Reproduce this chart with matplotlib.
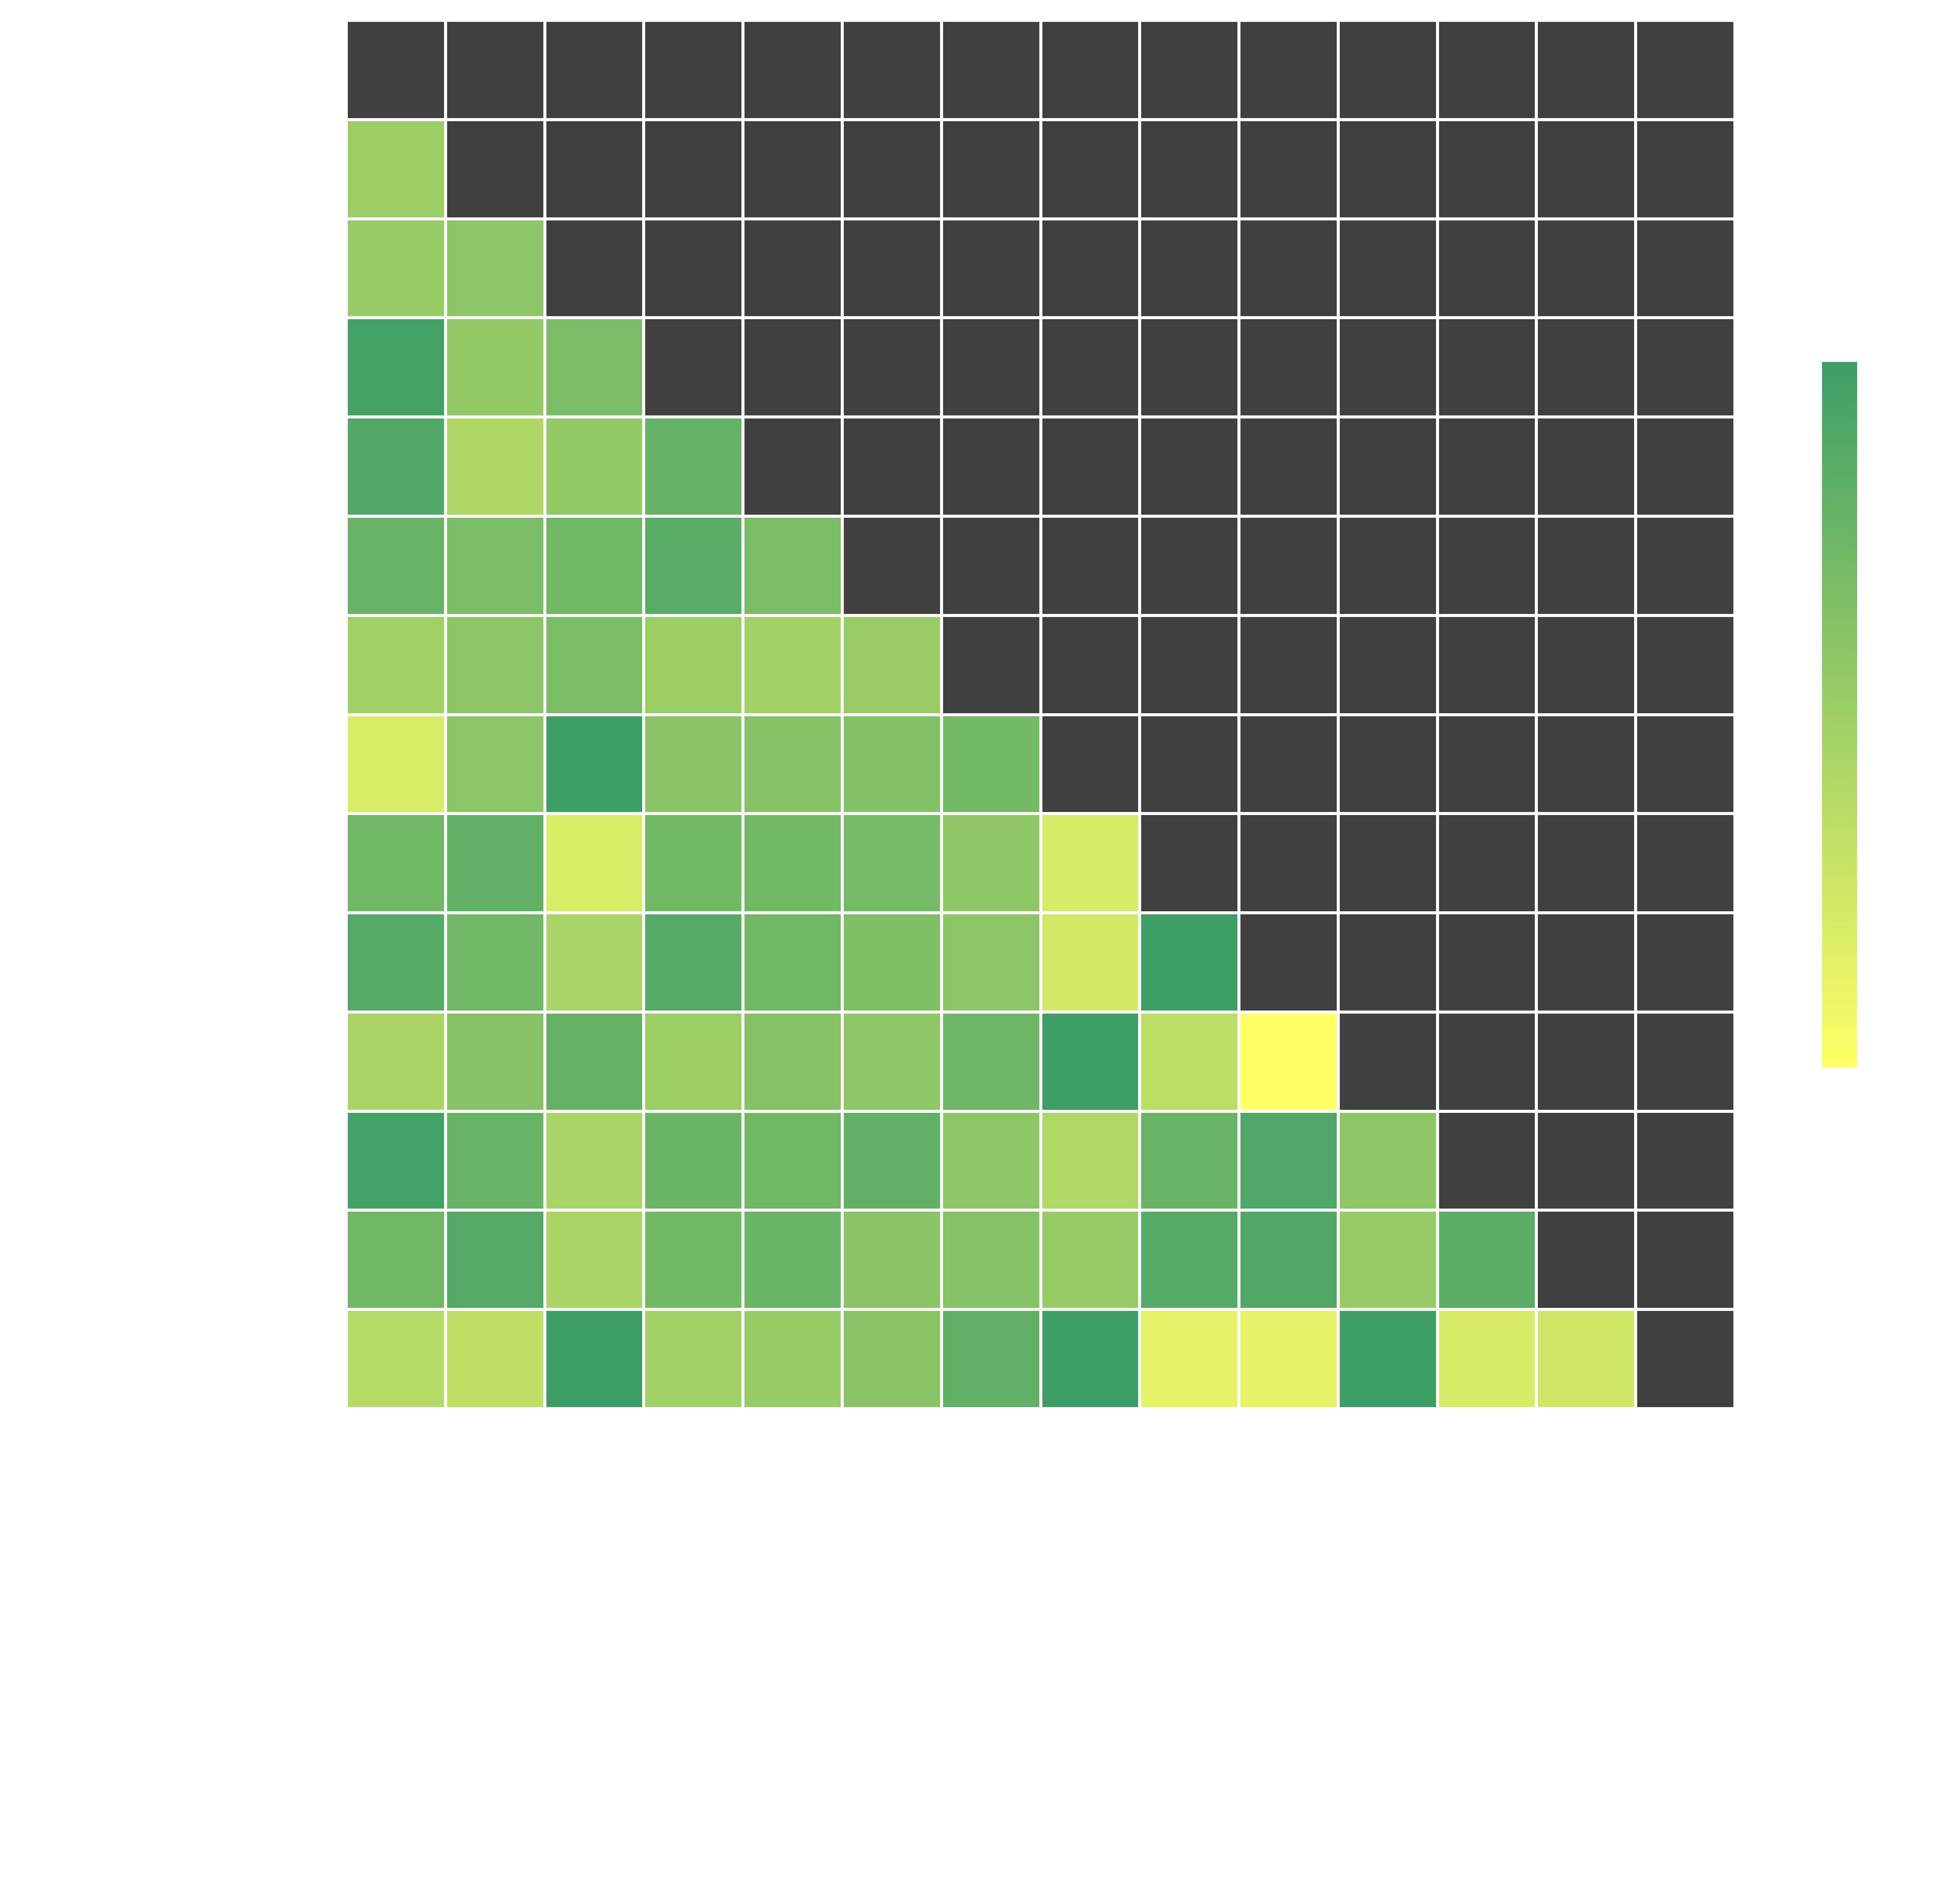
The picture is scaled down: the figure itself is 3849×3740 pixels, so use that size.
import numpy as np
import matplotlib
matplotlib.use("Agg")
import matplotlib.pyplot as plt
from matplotlib.colors import ListedColormap, Normalize

# lower-triangle scores (row i has i values, cols 0..i-1); diagonal and above masked
rows = [
    [],
    [0.39],
    [0.41, 0.45],
    [0.73, 0.43, 0.52],
    [0.68, 0.32, 0.42, 0.60],
    [0.59, 0.52, 0.56, 0.65, 0.52],
    [0.37, 0.45, 0.52, 0.39, 0.36, 0.40],
    [0.15, 0.45, 0.76, 0.46, 0.47, 0.49, 0.55],
    [0.56, 0.61, 0.15, 0.55, 0.55, 0.54, 0.44, 0.16],
    [0.67, 0.56, 0.34, 0.66, 0.56, 0.50, 0.45, 0.18, 0.76],
    [0.34, 0.47, 0.60, 0.39, 0.48, 0.44, 0.57, 0.76, 0.26, 0.00],
    [0.74, 0.59, 0.34, 0.58, 0.56, 0.62, 0.44, 0.31, 0.59, 0.69, 0.44],
    [0.56, 0.67, 0.34, 0.55, 0.58, 0.46, 0.48, 0.41, 0.67, 0.68, 0.41, 0.64],
    [0.29, 0.25, 0.76, 0.37, 0.41, 0.46, 0.62, 0.76, 0.10, 0.10, 0.76, 0.16, 0.19],
]
n = len(rows)

data = np.full((n, n), np.nan)
for i, r in enumerate(rows):
    data[i, :len(r)] = r
masked = np.isnan(data)

# reversed summer, cut so the darkest green is #3d9f66
summer = plt.get_cmap("summer")
cmap = ListedColormap(summer(np.linspace(0.24, 1.0, 256))[::-1])
norm = Normalize(vmin=np.nanmin(data), vmax=np.nanmax(data))

W, H = 3849, 3740
fig = plt.figure(figsize=(W / 300, H / 300), dpi=300)
fig.patch.set_facecolor("white")

ax = fig.add_axes([680 / W, 1 - 2767 / H, 2727 / W, 2727 / H])
ax.pcolormesh(np.ma.masked_where(~masked, np.zeros((n, n))),
              cmap=ListedColormap(["#404040"]), edgecolors="white", linewidth=1.0)
mesh = ax.pcolormesh(np.ma.masked_invalid(data), cmap=cmap, norm=norm,
                     edgecolors="white", linewidth=1.0)
ax.set_xlim(0, n)
ax.set_ylim(n, 0)
ax.set_xticks([])
ax.set_yticks([])
for s in ax.spines.values():
    s.set_visible(False)

cax = fig.add_axes([3578 / W, 1 - 2097 / H, 69 / W, 1386 / H])
cb = fig.colorbar(mesh, cax=cax)
cb.outline.set_visible(False)
cb.set_ticks([])
cb.ax.tick_params(length=0)

fig.savefig("out.png", dpi=300, facecolor=fig.get_facecolor())
